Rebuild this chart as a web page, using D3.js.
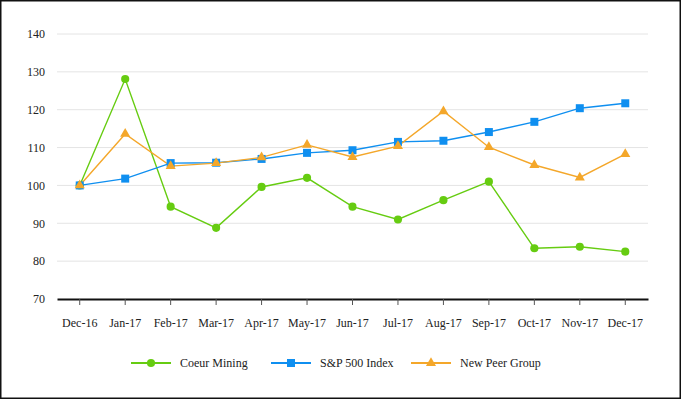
<!DOCTYPE html>
<html>
<head>
<meta charset="utf-8">
<script src="https://cdn.jsdelivr.net/npm/d3@7"></script>
<style>
  body { margin: 0; background: #fff; }
</style>
</head>
<body>
<div id="chart"></div>
<script>
const months = ["Dec-16", "Jan-17", "Feb-17", "Mar-17", "Apr-17", "May-17", "Jun-17",
  "Jul-17", "Aug-17", "Sep-17", "Oct-17", "Nov-17", "Dec-17"];
const coeur = [100, 128.1, 94.4, 88.8, 99.6, 102.0, 94.4, 91.0, 96.1, 101.0, 83.4, 83.8, 82.5];
const sp500 = [100, 101.8, 105.9, 106.0, 107.0, 108.6, 109.3, 111.5, 111.8, 114.1, 116.8, 120.4, 121.7];
const peers = [100, 113.6, 105.1, 105.9, 107.4, 110.7, 107.5, 110.4, 119.6, 110.1, 105.4, 102.1, 108.3];
const yTicks = [70, 80, 90, 100, 110, 120, 130, 140];

const font = "'Liberation Serif', 'Times New Roman', serif";

const series = [
  { name: "Coeur Mining", values: coeur, color: "#66cc11", symbol: d3.symbolCircle, size: 52 },
  { name: "S&P 500 Index", values: sp500, color: "#0f8ff0", symbol: d3.symbolSquare, size: 64 },
  { name: "New Peer Group", values: peers, color: "#f4a72a", symbol: d3.symbolTriangle, size: 44 }
];

const width = 682;
const height = 400;
const margin = { top: 34, right: 34, bottom: 101, left: 57 };

const svg = d3.select("#chart").append("svg")
  .attr("width", width)
  .attr("height", height)
  .attr("font-family", font);

svg.append("rect")
  .attr("x", 0.75).attr("y", 0.75)
  .attr("width", width - 2.5).attr("height", height - 2.5)
  .attr("fill", "none")
  .attr("stroke", "#111")
  .attr("stroke-width", 1.5);

const x = d3.scaleBand()
  .domain(months)
  .range([margin.left, width - margin.right]);

const y = d3.scaleLinear()
  .domain([70, 140])
  .range([height - margin.bottom, margin.top]);

// gridlines
svg.append("g")
  .selectAll("line")
  .data(yTicks.filter(d => d > 70))
  .join("line")
  .attr("x1", margin.left)
  .attr("x2", width - margin.right)
  .attr("y1", d => y(d))
  .attr("y2", d => y(d))
  .attr("stroke", "#e4e4e4")
  .attr("stroke-width", 1);

// y axis labels
const yAxis = svg.append("g")
  .attr("transform", `translate(${margin.left},0)`)
  .call(d3.axisLeft(y).tickValues(yTicks).tickSize(0).tickPadding(12))
  .attr("font-family", font);
yAxis.select(".domain").remove();
yAxis.selectAll("text")
  .style("font-family", font)
  .style("font-size", "12px")
  .attr("fill", "#222");

// x axis
const xAxis = svg.append("g")
  .attr("transform", `translate(0,${y(70)})`)
  .call(d3.axisBottom(x).tickSize(6).tickPadding(13).tickSizeOuter(0))
  .attr("font-family", font);
xAxis.select(".domain")
  .attr("stroke", "#111")
  .attr("stroke-width", 2);
xAxis.selectAll(".tick line").attr("stroke", "#555");
xAxis.selectAll("text")
  .style("font-family", font)
  .style("font-size", "12px")
  .attr("fill", "#222");

const cx = (d, i) => x(months[i]) + x.bandwidth() / 2;

const line = d3.line()
  .x(cx)
  .y(d => y(d));

series.forEach(s => {
  svg.append("path")
    .datum(s.values)
    .attr("fill", "none")
    .attr("stroke", s.color)
    .attr("stroke-width", 1.4)
    .attr("d", line);
});

series.forEach(s => {
  svg.append("g")
    .selectAll("path")
    .data(s.values)
    .join("path")
    .attr("transform", (d, i) => `translate(${cx(d, i)},${y(d)})`)
    .attr("d", d3.symbol().type(s.symbol).size(s.size))
    .attr("fill", s.color);
});

// legend
const legendX = [131, 271, 411];
const legend = svg.append("g")
  .attr("transform", `translate(0,${height - 37})`);

series.forEach((s, i) => {
  const g = legend.append("g")
    .attr("transform", `translate(${legendX[i]},0)`);
  g.append("line")
    .attr("x1", 0).attr("x2", 40)
    .attr("stroke", s.color)
    .attr("stroke-width", 2);
  g.append("path")
    .attr("transform", "translate(20,0)")
    .attr("d", d3.symbol().type(s.symbol).size(s.size))
    .attr("fill", s.color);
  g.append("text")
    .attr("x", 49)
    .attr("y", 0)
    .attr("dy", "0.35em")
    .style("font-family", font)
    .style("font-size", "12px")
    .attr("fill", "#222")
    .text(s.name);
});
</script>
</body>
</html>
